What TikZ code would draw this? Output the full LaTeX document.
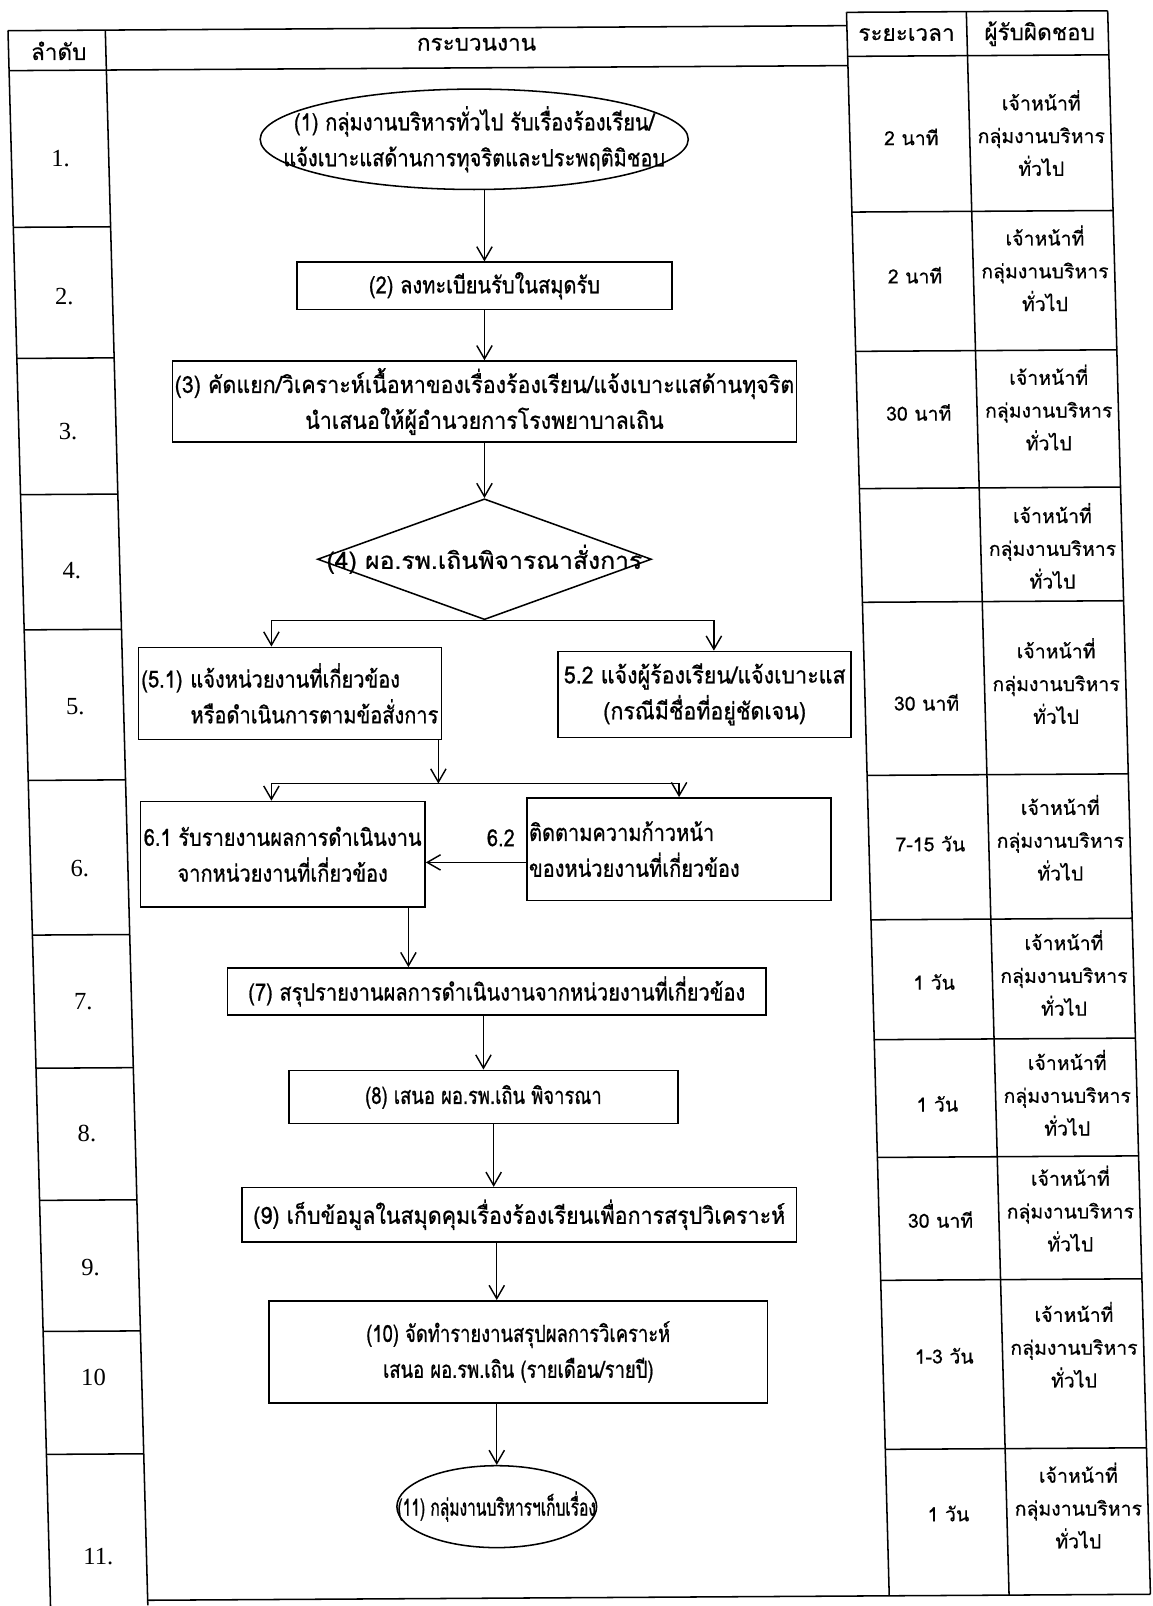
\documentclass[tikz,border=0pt]{standalone}
\usepackage{fontspec}
\newfontfamily\thaiA[Script=Thai,FakeStretch=0.85,FakeBold=0.8]{Loma}
\newfontfamily\thaiB[Script=Thai,FakeStretch=0.91,FakeBold=0.8]{Loma}
\newfontfamily\thaiC[Script=Thai,FakeStretch=0.78,FakeBold=0.8]{Loma}
\newfontfamily\thaiD[Script=Thai,FakeStretch=1.05,FakeBold=0.8]{Loma}
\newfontfamily\thaiE[Script=Thai,FakeStretch=0.66,FakeBold=0.8]{Loma}
\newfontfamily\thaiT[Script=Thai,FakeBold=0.5]{Loma}
\newfontfamily\lser{Liberation Serif}
\usetikzlibrary{arrows.meta,shapes.geometric}
\newcommand\flowsize{\fontsize{23}{35}\selectfont}
\tikzset{
  ln/.style={line width=1.5pt},
  fbox/.style={draw, line width=1.5pt, inner sep=2pt, font=\thaiA\flowsize, align=center},
  ftext/.style={inner sep=0pt, font=\thaiA\flowsize, align=center},
  wide/.style={font=\thaiB\flowsize},
  narrow/.style={font=\thaiC\flowsize},
  arr/.style={line width=1.4pt, -{Straight Barb[length=13pt,width=15pt]}},
  cell/.style={font=\thaiT\fontsize{19}{32}\selectfont, align=center, inner sep=0pt},
  head/.style={font=\thaiT\fontsize{22}{26}\selectfont, inner sep=0pt},
  num/.style={font=\lser\fontsize{24}{28}\selectfont, inner sep=0pt},
}
\begin{document}
\begin{tikzpicture}[x=1pt,y=-1pt]
\fill[white] (0,0) rectangle (1125,1568);
\useasboundingbox (0,0) rectangle (1125,1568);
% ---------------- table (slightly sheared like the scan)
\begin{scope}[cm={1,0.006,-0.027,1,(0,0)}, ln]
  \draw (7,30) -- (826,30);
  \draw (7,69) -- (826,69);
  \draw (7,30) -- (7,1568);
  \draw (102,30) -- (102,1568);
  \foreach \yy in {222,350,483,615,762,913,1043,1172,1300,1420} \draw (7,\yy) -- (102,\yy);
  \draw (826,17) -- (1081,17);
  \draw (826,17) -- (826,1563);
  \draw (943,17) -- (943,1563);
  \draw (1081,17) -- (1081,1563);
  \foreach \yy in {60,212,348,482,593,762,903,1020,1135,1255,1420} \draw (826,\yy) -- (1081,\yy);
  \draw (102,1563) -- (1081,1563);
  % headers
  \node[head] (h1) at (56,50) {ลำดับ};
  \node[head] (h2) at (464,46) {กระบวนงาน};
  \node[head] (h3) at (884,39) {ระยะเวลา};
  \node[head] (h4) at (1014,39) {ผู้รับผิดชอบ};
  % step numbers
  \node[num] (n1) at (55,155) {1.};
  \node[num] (n2) at (55,290) {2.};
  \node[num] (n3) at (55,422) {3.};
  \node[num] (n4) at (55,557) {4.};
  \node[num] (n5) at (55,690) {5.};
  \node[num] (n6) at (55,848) {6.};
  \node[num] (n7) at (55,978) {7.};
  \node[num] (n8) at (55,1107) {8.};
  \node[num] (n9) at (55,1238) {9.};
  \node[num] (n10) at (55,1345) {10};
  \node[num] (n11) at (55,1520) {11.};
  % durations
  \node[cell] (t1) at (886,139) {2 นาที};
  \node[cell] (t2) at (886,274) {2 นาที};
  \node[cell] (t3) at (886,408) {30 นาที};
  \node[cell] (t5) at (886,691) {30 นาที};
  \node[cell] (t6) at (886,829) {7-15 วัน};
  \node[cell] (t7) at (886,964) {1 วัน};
  \node[cell] (t8) at (886,1083) {1 วัน};
  \node[cell] (t9) at (886,1196) {30 นาที};
  \node[cell] (t10) at (886,1329) {1-3 วัน};
  \node[cell] (t11) at (886,1483) {1 วัน};
  % responsible
  \foreach \yy [count=\i] in {136,268,404,539,671,824,956,1073,1186,1319,1476}
    \node[cell] (r\i) at (1013,\yy) {เจ้าหน้าที่\\กลุ่มงานบริหาร\\ทั่วไป};
\end{scope}
% ---------------- flowchart
\node[draw, ellipse, line width=1.5pt, minimum width=418pt, minimum height=98pt] (e1) at (463,136) {};
\node[ftext] (e1t) at (e1.center) {(1) กลุ่มงานบริหารทั่วไป รับเรื่องร้องเรียน/\\แจ้งเบาะแสด้านการทุจริตและประพฤติมิชอบ};
\node[fbox, minimum width=366pt, minimum height=46pt] (b2) at (473,279) {(2) ลงทะเบียนรับในสมุดรับ};
\node[fbox, wide, minimum width=606pt, minimum height=79pt] (b3) at (473,392) {(3) คัดแยก/วิเคราะห์เนื้อหาของเรื่องร้องเรียน/แจ้งเบาะแสด้านทุจริต\\นำเสนอให้ผู้อำนวยการโรงพยาบาลเถิน};
\node[draw, diamond, line width=1.5pt, minimum width=326pt, minimum height=118pt] (d4) at (473,546) {};
\node[ftext, font=\thaiD\flowsize] (d4t) at (d4.center) {(4) ผอ.รพ.เถินพิจารณาสั่งการ};
\node[fbox, minimum width=296pt, minimum height=90pt, text width=290pt, align=left] (b51) at (283,677) {(5.1) แจ้งหน่วยงานที่เกี่ยวข้อง\\\hspace*{\fill}หรือดำเนินการตามข้อสั่งการ};
\node[fbox, wide, minimum width=286pt, minimum height=84pt] (b52) at (688,678) {5.2 แจ้งผู้ร้องเรียน/แจ้งเบาะแส\\(กรณีมีชื่อที่อยู่ชัดเจน)};
\node[fbox, minimum width=278pt, minimum height=103pt] (b61) at (276,834) {6.1 รับรายงานผลการดำเนินงาน\\จากหน่วยงานที่เกี่ยวข้อง};
\node[fbox, minimum width=297pt, minimum height=100pt, text width=293pt, align=left] (b62) at (663,829) {ติดตามความก้าวหน้า\\ของหน่วยงานที่เกี่ยวข้อง};
\node[ftext] (l62) at (489,818) {6.2};
\node[fbox, minimum width=526pt, minimum height=46pt] (b7) at (485,968) {(7) สรุปรายงานผลการดำเนินงานจากหน่วยงานที่เกี่ยวข้อง};
\node[fbox, narrow, minimum width=380pt, minimum height=52pt] (b8) at (472,1071) {(8) เสนอ ผอ.รพ.เถิน พิจารณา};
\node[fbox, wide, minimum width=541pt, minimum height=53pt] (b9) at (507,1186) {(9) เก็บข้อมูลในสมุดคุมเรื่องร้องเรียนเพื่อการสรุปวิเคราะห์};
\node[fbox, narrow, minimum width=487pt, minimum height=100pt] (b10) at (506,1320) {(10) จัดทำรายงานสรุปผลการวิเคราะห์\\เสนอ ผอ.รพ.เถิน (รายเดือน/รายปี)};
\node[draw, ellipse, line width=1.5pt, minimum width=195pt, minimum height=80pt] (e11) at (485,1471) {};
\node[ftext, font=\thaiE\flowsize] (e11t) at (e11.center) {(11) กลุ่มงานบริหารฯเก็บเรื่อง};
% connectors
\draw[arr] (e1.south -| b2.north) -- (b2.north);
\draw[arr] (b2.south) -- (b2.south |- b3.north);
\draw[arr] (b3.south) -- (d4.north);
\draw[arr] (d4.south) -| ([xshift=-18pt]b51.north);
\draw[arr] (d4.south) -| ([xshift=9pt]b52.north);
\coordinate (m6) at (428,765);
\draw[arr] (b51.south east -| m6) -- (m6);
\draw[arr] (m6) -| ([xshift=-11pt]b61.north);
\draw[arr] (m6) -| (b62.north);
\draw[arr] ([yshift=-13pt]b62.west) -- ([yshift=-13pt]b62.west -| b61.east);
\draw[arr] ([xshift=-17pt]b61.south east) -- ([xshift=-17pt]b61.south east |- b7.north);
\draw[arr] (b8.north |- b7.south) -- (b8.north);
\draw[arr] ([xshift=10pt]b8.south) -- ([xshift=10pt]b8.south |- b9.north);
\draw[arr] ([xshift=-22pt]b9.south) -- ([xshift=-22pt]b9.south |- b10.north);
\draw[arr] (e11.north |- b10.south) -- (e11.north);
\end{tikzpicture}
\end{document}
